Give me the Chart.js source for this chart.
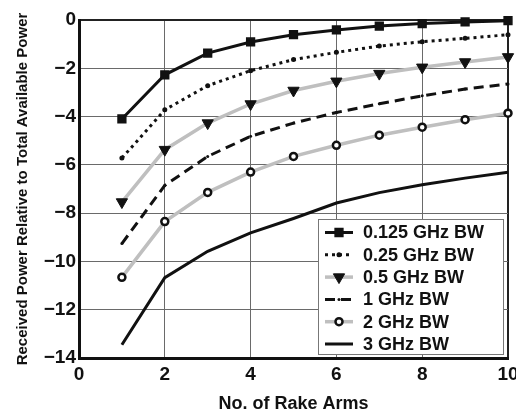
<!DOCTYPE html>
<html>
<head>
<meta charset="utf-8">
<script src="https://cdn.jsdelivr.net/npm/chart.js@4/dist/chart.umd.min.js"></script>
<style>
  html, body { margin: 0; padding: 0; background: #fff; }
  #wrap { position: relative; width: 516px; height: 415px; }
</style>
</head>
<body>
<div id="wrap"><canvas id="c"></canvas></div>
<script>
// ---- data ----
const rakeArms = [1, 2, 3, 4, 5, 6, 7, 8, 9, 10];
const bw0125 = [-4.10, -2.27, -1.37, -0.91, -0.61, -0.41, -0.25, -0.15, -0.08, -0.03];
const bw025  = [-5.72, -3.72, -2.72, -2.10, -1.64, -1.34, -1.08, -0.90, -0.76, -0.61];
const bw05   = [-7.54, -5.37, -4.27, -3.48, -2.92, -2.54, -2.22, -1.96, -1.74, -1.53];
const bw1    = [-9.26, -6.85, -5.65, -4.82, -4.27, -3.83, -3.47, -3.14, -2.86, -2.65];
const bw2    = [-10.66, -8.35, -7.14, -6.30, -5.65, -5.19, -4.77, -4.44, -4.13, -3.86];
const bw3    = [-13.45, -10.67, -9.58, -8.82, -8.22, -7.58, -7.15, -6.82, -6.55, -6.31];
const seriesLabels = ['0.125 GHz BW', '0.25 GHz BW', '0.5 GHz BW', '1 GHz BW', '2 GHz BW', '3 GHz BW'];
const xTicks = [0, 2, 4, 6, 8, 10];
const yTicks = [0, -2, -4, -6, -8, -10, -12, -14];

const FONT = "'Liberation Sans', Arial, Helvetica, sans-serif";
const GRAY = '#bfbfbf';

const pts = (vals) => rakeArms.map((x, i) => ({ x, y: vals[i] }));
const minus = (v) => String(v).replace('-', '\u2212');

const datasets = [
  { label: seriesLabels[0], data: pts(bw0125), borderColor: '#111', borderWidth: 3,
    pointStyle: 'rect', pointRadius: 5.5, pointBackgroundColor: '#111', pointBorderColor: '#111', pointBorderWidth: 1.5 },
  { label: seriesLabels[1], data: pts(bw025), borderColor: '#111', borderWidth: 3, borderDash: [3, 4],
    pointStyle: 'circle', pointRadius: 2.5, pointBackgroundColor: '#111', pointBorderColor: '#111', pointBorderWidth: 0 },
  { label: seriesLabels[2], data: pts(bw05), borderColor: GRAY, borderWidth: 3.5,
    pointStyle: 'triangle', pointRotation: 180, pointRadius: 6.5, pointBackgroundColor: '#111', pointBorderColor: '#111', pointBorderWidth: 1 },
  { label: seriesLabels[3], data: pts(bw1), borderColor: '#111', borderWidth: 3, borderDash: [10, 6],
    pointStyle: 'circle', pointRadius: 1.5, pointBackgroundColor: '#111', pointBorderColor: '#111', pointBorderWidth: 0 },
  { label: seriesLabels[4], data: pts(bw2), borderColor: GRAY, borderWidth: 3.5,
    pointStyle: 'circle', pointRadius: 3.5, pointBackgroundColor: '#fff', pointBorderColor: '#111', pointBorderWidth: 2.5 },
  { label: seriesLabels[5], data: pts(bw3), borderColor: '#111', borderWidth: 3,
    pointRadius: 0 },
];
datasets.forEach((d) => { d.tension = 0; d.fill = false; d.clip = false; d.borderCapStyle = 'butt'; });

// legend box drawn inside the plot, lower right
const boxLegend = {
  id: 'boxLegend',
  afterDraw(chart) {
    const { ctx, chartArea: a } = chart;
    const w = 185, h = 135;
    const x0 = a.right - w - 5, y0 = a.bottom - h - 4;
    ctx.save();
    ctx.fillStyle = '#fff';
    ctx.fillRect(x0, y0, w, h);
    ctx.strokeStyle = '#777';
    ctx.lineWidth = 1;
    ctx.strokeRect(x0 + 0.5, y0 + 0.5, w, h);
    chart.data.datasets.forEach((d, i) => {
      const y = y0 + 13.5 + i * 22.3;
      const lx = x0 + 7, rx = x0 + 35, cx = (lx + rx) / 2;
      ctx.setLineDash(d.borderDash || []);
      ctx.strokeStyle = d.borderColor;
      ctx.lineWidth = d.borderWidth;
      ctx.beginPath();
      ctx.moveTo(lx, y);
      ctx.lineTo(rx, y);
      ctx.stroke();
      ctx.setLineDash([]);
      if (d.pointRadius > 0) {
        ctx.fillStyle = d.pointBackgroundColor;
        ctx.strokeStyle = d.pointBorderColor;
        ctx.lineWidth = d.pointBorderWidth;
        Chart.helpers.drawPoint(ctx, {
          pointStyle: d.pointStyle, rotation: d.pointRotation || 0,
          radius: d.pointRadius, borderWidth: d.pointBorderWidth,
        }, cx, y);
      }
      ctx.fillStyle = '#111';
      ctx.font = 'bold 18px ' + FONT;
      ctx.textAlign = 'left';
      ctx.textBaseline = 'middle';
      ctx.fillText(d.label, x0 + 45, y + 1);
    });
    ctx.restore();
  },
};

const edgeColor = (edgeVal) => (c) => (c.tick && c.tick.value === edgeVal ? '#222' : '#6a6a6a');
const edgeWidth = (edgeVal) => (c) => (c.tick && c.tick.value === edgeVal ? 2 : 1);

new Chart(document.getElementById('c'), {
  type: 'line',
  data: { datasets },
  plugins: [boxLegend],
  options: {
    responsive: true,
    maintainAspectRatio: false,
    animation: false,
    layout: { padding: { top: 20, right: 8, left: 0, bottom: 0 } },
    plugins: { legend: { display: false }, tooltip: { enabled: false } },
    scales: {
      x: {
        type: 'linear', min: 0, max: 10,
        afterBuildTicks: (s) => { s.ticks = xTicks.map((v) => ({ value: v })); },
        afterFit: (s) => { s.height = 57; s.paddingLeft = 0; s.paddingRight = 0; },
        ticks: { color: '#111', padding: 5, font: { family: FONT, size: 19, weight: 'bold' }, maxRotation: 0 },
        grid: { color: edgeColor(10), lineWidth: edgeWidth(10), drawTicks: false },
        border: { color: '#111', width: 3 },
        title: { display: true, text: 'No. of Rake Arms', color: '#111',
          font: { family: FONT, size: 18, weight: 'bold', lineHeight: 1 }, padding: { top: 0, bottom: 2 } },
      },
      y: {
        min: -14, max: 0,
        afterBuildTicks: (s) => { s.ticks = yTicks.map((v) => ({ value: v })); },
        afterFit: (s) => { s.width = 79; s.paddingTop = 0; s.paddingBottom = 0; },
        ticks: { color: '#111', padding: 3, callback: minus, font: { family: FONT, size: 19, weight: 'bold' } },
        grid: { color: edgeColor(0), lineWidth: edgeWidth(0), drawTicks: false },
        border: { color: '#111', width: 3 },
        title: { display: true, text: 'Received Power Relative to Total Available Power', color: '#111',
          font: { family: FONT, size: 15, weight: 'bold', lineHeight: 1 }, padding: { top: 15, bottom: 0 } },
      },
    },
  },
});
</script>
</body>
</html>
